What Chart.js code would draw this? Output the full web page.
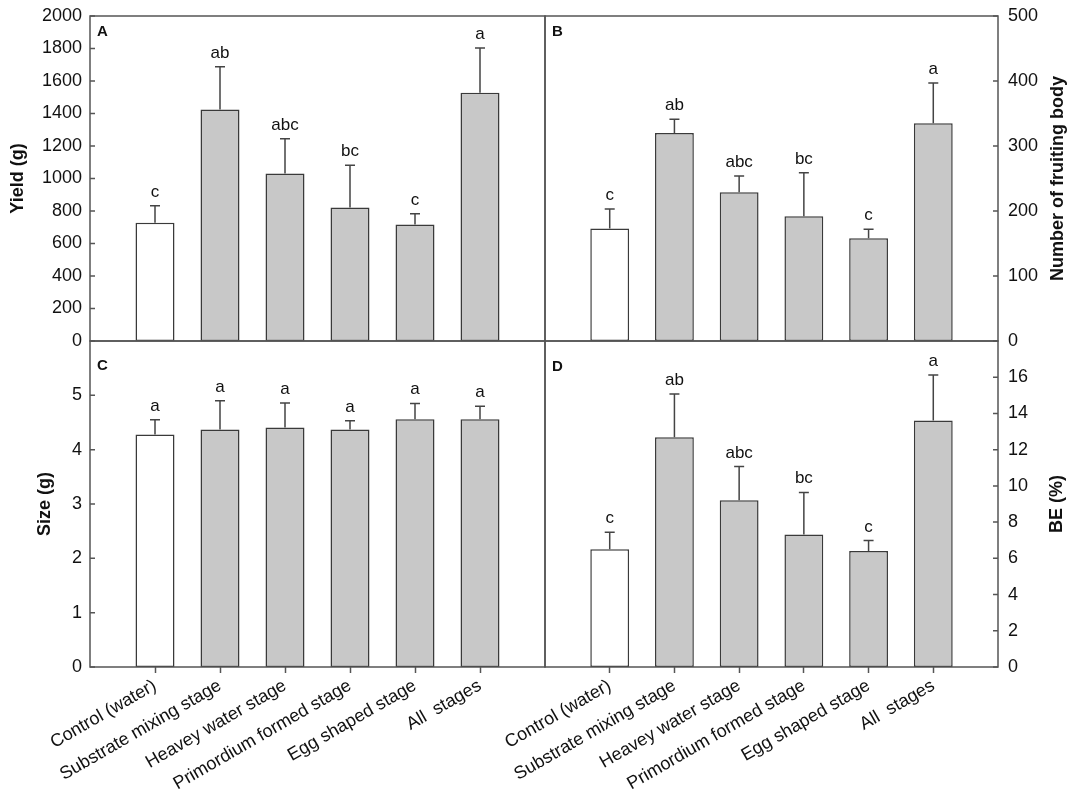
<!DOCTYPE html>
<html>
<head>
<meta charset="utf-8">
<script src="https://cdn.jsdelivr.net/npm/chart.js@4.4.1/dist/chart.umd.min.js"></script>
<style>
  html, body { margin: 0; padding: 0; background: #fff; }
  #wrap { position: relative; width: 1084px; height: 797px; }
  #wrap canvas { position: absolute; left: 0; top: 0; }
</style>
</head>
<body>
<div id="wrap">
  <canvas id="chartA" width="1084" height="797"></canvas>
  <canvas id="chartB" width="1084" height="797"></canvas>
  <canvas id="chartC" width="1084" height="797"></canvas>
  <canvas id="chartD" width="1084" height="797"></canvas>
</div>
<script>
// treatments (x axis)
const categories = ["Control (water)", "Substrate mixing stage", "Heavey water stage",
  "Primordium formed stage", "Egg shaped stage", "All  stages"];

// A - yield (g)
const yieldMean = [727, 1424, 1031, 822, 717, 1527];
const yieldSE = [105, 263, 213, 260, 66, 276];
const yieldLetters = ["c", "ab", "abc", "bc", "c", "a"];
const yieldTicks = [0, 200, 400, 600, 800, 1000, 1200, 1400, 1600, 1800, 2000];

// B - number of fruiting body
const fruitMean = [173, 320, 229, 192, 158, 335];
const fruitSE = [30, 21, 25, 67, 14, 62];
const fruitLetters = ["c", "ab", "abc", "bc", "c", "a"];
const fruitTicks = [0, 100, 200, 300, 400, 500];

// C - size (g)
const sizeMean = [4.28, 4.37, 4.41, 4.37, 4.56, 4.56];
const sizeSE = [0.27, 0.53, 0.45, 0.16, 0.29, 0.24];
const sizeLetters = ["a", "a", "a", "a", "a", "a"];
const sizeTicks = [0, 1, 2, 3, 4, 5];

// D - BE (%)
const beMean = [6.50, 12.69, 9.21, 7.31, 6.41, 13.61];
const beSE = [0.94, 2.38, 1.86, 2.33, 0.57, 2.51];
const beLetters = ["c", "ab", "abc", "bc", "c", "a"];
const beTicks = [0, 2, 4, 6, 8, 10, 12, 14, 16];

const W = 1084, H = 797;
const FONT = "'Liberation Sans', Arial, sans-serif";
Chart.defaults.font.family = FONT;
Chart.defaults.font.size = 18;
Chart.defaults.color = "#111";

function makePanel(id, p) {
  const labels = ["", ...categories, ""];
  const area = p.area;

  const decor = {
    id: "decor",
    afterDatasetsDraw(chart) {
      const ctx = chart.ctx, y = chart.scales.y;
      const bars = chart.getDatasetMeta(0).data;
      ctx.save();
      ctx.strokeStyle = "#444";
      ctx.lineWidth = 1.5;
      ctx.fillStyle = "#111";
      ctx.font = "17px " + FONT;
      ctx.textAlign = "center";
      ctx.textBaseline = "alphabetic";
      p.values.forEach((v, i) => {
        const bar = bars[i + 1];
        const top = y.getPixelForValue(v + p.se[i]);
        ctx.beginPath();
        ctx.moveTo(bar.x, bar.y);
        ctx.lineTo(bar.x, top);
        ctx.moveTo(bar.x - 5, top);
        ctx.lineTo(bar.x + 5, top);
        ctx.stroke();
        ctx.fillText(p.letters[i], bar.x, top - 9);
      });
      ctx.restore();
    },
    afterDraw(chart) {
      const ctx = chart.ctx, y = chart.scales.y, a = chart.chartArea;
      ctx.save();
      // frame
      ctx.strokeStyle = "#555";
      ctx.lineWidth = 1.5;
      ctx.strokeRect(a.left, a.top, a.right - a.left, a.bottom - a.top);
      // inward y ticks
      ctx.beginPath();
      y.ticks.forEach(t => {
        const py = y.getPixelForValue(t.value);
        if (p.side === "left") { ctx.moveTo(a.left, py); ctx.lineTo(a.left + 5, py); }
        else { ctx.moveTo(a.right - 5, py); ctx.lineTo(a.right, py); }
      });
      ctx.stroke();
      // panel tag
      ctx.fillStyle = "#111";
      ctx.font = "bold 15px " + FONT;
      ctx.textAlign = "left";
      ctx.textBaseline = "top";
      ctx.fillText(p.tag, a.left + 7, a.top + p.tagDy);
      // right side axis title, reading bottom to top
      if (p.side === "right") {
        ctx.translate(p.titleX, (a.top + a.bottom) / 2);
        ctx.rotate(-Math.PI / 2);
        ctx.font = "bold 18px " + FONT;
        ctx.textAlign = "center";
        ctx.textBaseline = "middle";
        ctx.fillText(p.title, 0, 0);
      }
      ctx.restore();
    }
  };

  new Chart(document.getElementById(id), {
    type: "bar",
    data: {
      labels: labels,
      datasets: [{
        data: [null, ...p.values, null],
        backgroundColor: c => (c.dataIndex === 1 ? "#ffffff" : "#c8c8c8"),
        borderColor: "#3a3a3a",
        borderWidth: 1.5,
        borderSkipped: false,
        categoryPercentage: 1,
        barPercentage: 0.6,
      }],
    },
    options: {
      responsive: false,
      maintainAspectRatio: false,
      animation: false,
      layout: {
        padding: {
          left: p.side === "left" ? 0 : area.left,
          right: p.side === "left" ? W - area.right : 0,
          top: area.top,
          bottom: 0,
        },
      },
      plugins: { legend: { display: false }, tooltip: { enabled: false } },
      scales: {
        x: {
          offset: false,
          border: { display: false },
          grid: {
            display: p.bottom,
            offset: false,
            drawOnChartArea: false,
            drawTicks: true,
            tickLength: 6,
            tickWidth: 1.5,
            tickColor: c => (c.index === 0 || c.index === labels.length - 1 ? "rgba(0,0,0,0)" : "#555"),
          },
          ticks: {
            display: p.bottom,
            autoSkip: false,
            maxRotation: 30,
            minRotation: 30,
            padding: 2,
          },
          afterFit: s => { s.height = H - area.bottom; },
        },
        y: {
          position: p.side,
          min: 0,
          max: p.max,
          border: { display: false },
          grid: { display: false, drawTicks: false },
          ticks: {
            padding: p.side === "left" ? 8 : 10,
            callback: v => String(v),
          },
          afterBuildTicks: s => { s.ticks = p.ticks.map(v => ({ value: v })); },
          title: {
            display: p.side === "left",
            text: p.title,
            font: { weight: "bold", size: 18 },
            padding: { top: p.titlePad, bottom: 0 },
          },
          afterFit: s => {
            s.width = p.side === "left" ? area.left : W - area.right;
            s.paddingTop = 0; // keep plot top where the layout padding puts it
            s.paddingBottom = 0;
          },
        },
      },
    },
    plugins: [decor],
  });
}

makePanel("chartA", {
  values: yieldMean, se: yieldSE, letters: yieldLetters, ticks: yieldTicks, max: 2000,
  side: "left", bottom: false, area: { left: 90, top: 16, right: 545, bottom: 341 },
  title: "Yield (g)", titlePad: 7, tag: "A", tagDy: 8,
});
makePanel("chartB", {
  values: fruitMean, se: fruitSE, letters: fruitLetters, ticks: fruitTicks, max: 500,
  side: "right", bottom: false, area: { left: 545, top: 16, right: 998, bottom: 341 },
  title: "Number of fruiting body", titleX: 1058, tag: "B", tagDy: 8,
});
makePanel("chartC", {
  values: sizeMean, se: sizeSE, letters: sizeLetters, ticks: sizeTicks, max: 6,
  side: "left", bottom: true, area: { left: 90, top: 341, right: 545, bottom: 667 },
  title: "Size (g)", titlePad: 34, tag: "C", tagDy: 17,
});
makePanel("chartD", {
  values: beMean, se: beSE, letters: beLetters, ticks: beTicks, max: 18,
  side: "right", bottom: true, area: { left: 545, top: 341, right: 998, bottom: 667 },
  title: "BE (%)", titleX: 1057, tag: "D", tagDy: 18,
});
</script>
</body>
</html>
